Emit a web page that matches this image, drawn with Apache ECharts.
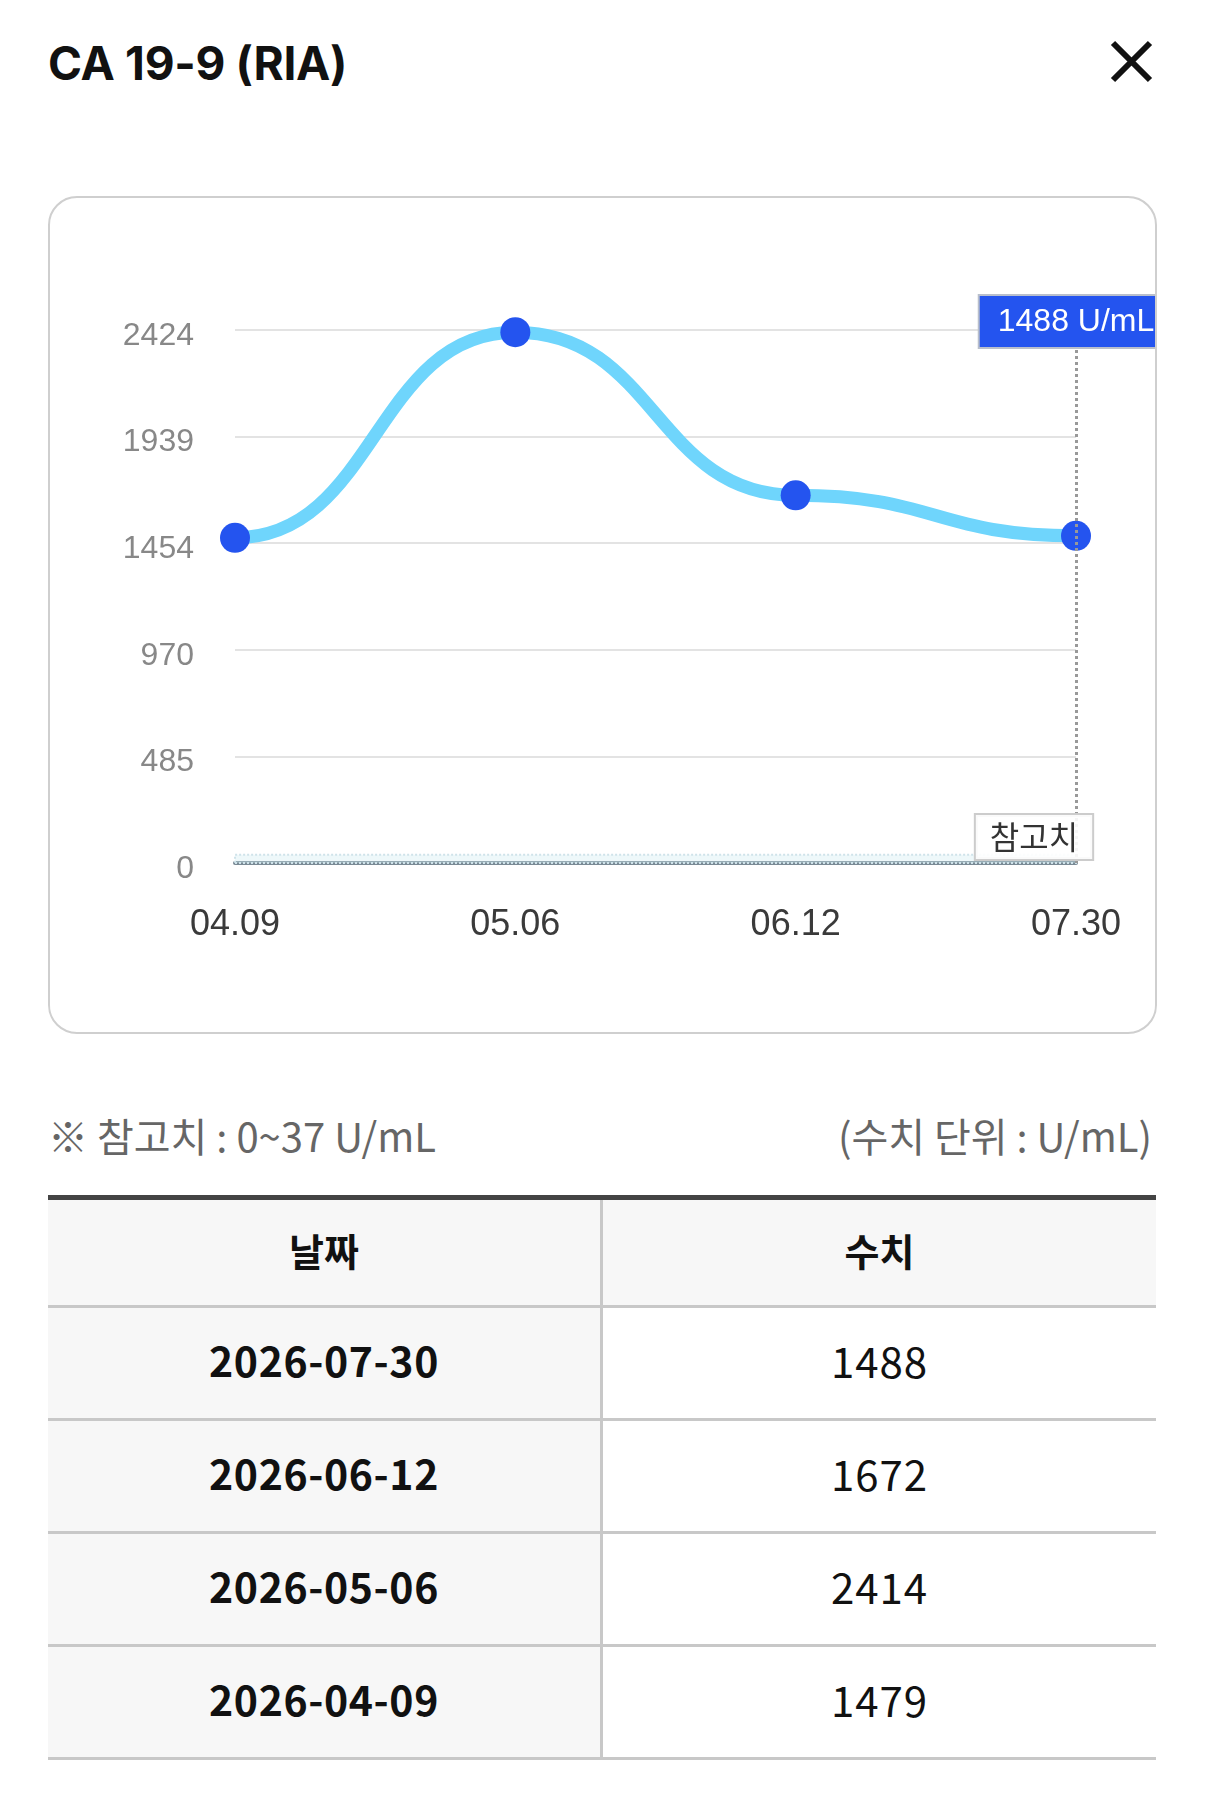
<!DOCTYPE html>
<html>
<head>
<meta charset="utf-8">
<script src="https://cdn.jsdelivr.net/npm/echarts@6/dist/echarts.min.js"></script>
<style>
  html, body { margin: 0; padding: 0; background: #fff; }
  body { width: 1206px; height: 1809px; position: relative; font-family: "Noto Sans CJK KR", "Noto Sans", sans-serif; }
  #title { position: absolute; left: 48px; top: 33px; font-family: Inter, "Noto Sans CJK KR", sans-serif; font-weight: 700; font-size: 46px; color: #111; line-height: 60px; letter-spacing: -0.3px; }
  #close { position: absolute; left: 1109px; top: 40px; width: 45px; height: 43px; }
  #box { position: absolute; left: 48px; top: 196px; width: 1105px; height: 834px; border: 2px solid #cfcfcf; border-radius: 29px; overflow: hidden; }
  #main { width: 1105px; height: 834px; }
  .note { position: absolute; top: 1108px; font-size: 40px; color: #666; line-height: 54px; }
  #noteL { left: 48px; }
  #noteR { right: 54px; }
  table { position: absolute; left: 48px; top: 1195px; width: 1108px; border-collapse: collapse; border-top: 5px solid #444; }
  td, th { height: 102px; padding: 0 0 8px 0; text-align: center; border-bottom: 3px solid #c8c8c8; font-size: 42px; color: #111; }
  th { height: 99px; padding-bottom: 6px; background: #f7f7f7; font-weight: 700; font-size: 38px; }
  td.d { background: #f7f7f7; font-weight: 700; font-size: 41px; letter-spacing: 0.6px; }
  td.d, th.d { border-right: 3px solid #c8c8c8; width: 552px; }
  td.v { font-weight: 400; letter-spacing: 1px; }
</style>
</head>
<body>
<div id="title">CA 19-9 (RIA)</div>
<svg id="close" viewBox="0 0 45 43"><path d="M4 3 L41 40 M41 3 L4 40" stroke="#111" stroke-width="6" stroke-linecap="butt"/></svg>
<div id="box"><div id="main"></div></div>
<div class="note" id="noteL">※ 참고치 : 0~37 U/mL</div>
<div class="note" id="noteR">(수치 단위 : U/mL)</div>
<table id="tbl"></table>
<script>
var categories = ['04.09', '05.06', '06.12', '07.30'];
var fullDates = ['2026-04-09', '2026-05-06', '2026-06-12', '2026-07-30'];
var values = [1479, 2414, 1672, 1488];
var yMax = 2424;
var yStep = 484.8;
var refLow = 0;
var refHigh = 37;
var unit = 'U/mL';

// table, newest first
var html = '<tr><th class="d">날짜</th><th>수치</th></tr>';
for (var i = fullDates.length - 1; i >= 0; i--) {
  html += '<tr><td class="d">' + fullDates[i] + '</td><td class="v">' + values[i] + '</td></tr>';
}
document.getElementById('tbl').innerHTML = html;

var last = categories.length - 1;
var lineColor = '#6fd5fc';

// curve segment between point i-1 and i, flat at both ends (bump style)
function drawSegment(params, api) {
  var i = params.dataIndex;
  if (i === 0) return { type: 'group', children: [] };
  var p0 = api.coord([i - 1, values[i - 1]]);
  var p1 = api.coord([i, api.value(1)]);
  var mx = (p0[0] + p1[0]) / 2;
  return {
    type: 'bezierCurve',
    shape: { x1: p0[0], y1: p0[1], cpx1: mx, cpy1: p0[1], cpx2: mx, cpy2: p1[1], x2: p1[0], y2: p1[1] },
    style: { stroke: lineColor, lineWidth: 13, fill: null, lineCap: 'round' }
  };
}

var myChart = echarts.init(document.getElementById('main'));
var option = {
  animation: false,
  grid: { left: 185, right: 79, top: 132, bottom: 169 },
  xAxis: {
    type: 'category',
    boundaryGap: false,
    data: categories,
    axisLine: { lineStyle: { color: '#7a8a95', width: 4 } },
    axisTick: { show: false },
    axisLabel: { color: '#3a3a3a', fontSize: 36, margin: 44, fontFamily: 'Liberation Sans' }
  },
  yAxis: {
    type: 'value',
    min: 0,
    max: yMax,
    interval: yStep,
    axisLine: { show: false },
    axisTick: { show: false },
    splitLine: { lineStyle: { color: '#e3e3e3', width: 2 } },
    axisLabel: {
      color: '#888', fontSize: 32, margin: 41, fontFamily: 'Liberation Sans',
      verticalAlign: 'top', lineHeight: 12,
      formatter: function (v) { return Math.round(v); }
    }
  },
  series: [{
    type: 'custom',
    data: values.map(function (v, i) { return [i, v]; }),
    encode: { x: 0, y: 1 },
    renderItem: drawSegment,
    silent: true,
    z: 2
  }, {
    type: 'line',
    data: values,
    symbol: 'circle',
    symbolSize: 30,
    lineStyle: { opacity: 0 },
    itemStyle: { color: '#2454ef' },
    z: 3,
    markArea: {
      silent: true,
      itemStyle: { color: 'rgba(205,235,242,0.35)', borderColor: '#cfe3ea', borderWidth: 2, borderType: 'dotted' },
      data: [[{ yAxis: refLow }, { yAxis: refHigh }]]
    },
    markLine: {
      silent: true,
      symbol: ['none', 'none'],
      lineStyle: { color: '#999', width: 3, type: 'dotted' },
      label: {
        position: 'end',
        distance: -17,
        formatter: values[last] + ' ' + unit,
        color: '#fff',
        fontSize: 32,
        fontFamily: 'Liberation Sans',
        backgroundColor: '#2454ef',
        borderColor: '#b9bfcc',
        borderWidth: 2,
        padding: [10, 18, 9, 18]
      },
      data: [{ xAxis: categories[last] }]
    },
    markPoint: {
      silent: true,
      symbol: 'rect',
      symbolSize: 1,
      itemStyle: { color: 'rgba(0,0,0,0)' },
      label: {
        show: true,
        position: 'inside',
        offset: [-42, -26],
        formatter: '참고치',
        color: '#333',
        fontSize: 32,
        fontFamily: 'Noto Sans CJK KR',
        backgroundColor: 'rgba(255,255,255,0.9)',
        borderColor: '#cccccc',
        borderWidth: 2,
        padding: [6, 14, 6, 14]
      },
      data: [{ coord: [categories[last], refLow] }]
    }
  }]
};
myChart.setOption(option);
</script>
</body>
</html>
